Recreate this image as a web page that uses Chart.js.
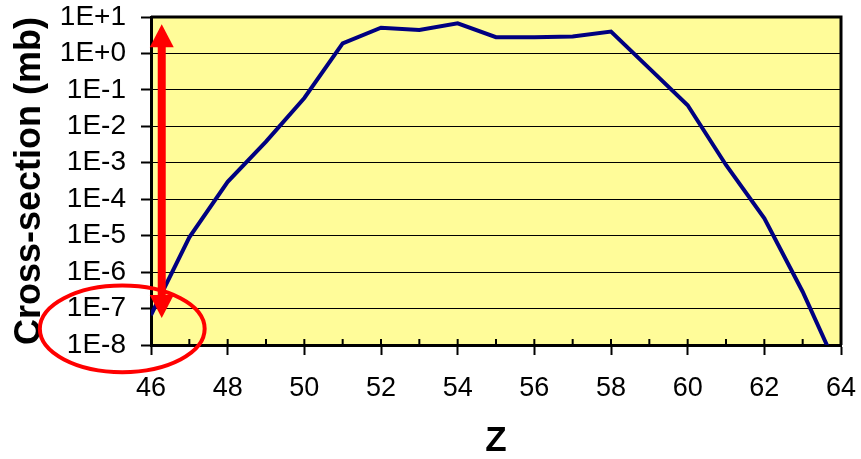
<!DOCTYPE html>
<html>
<head>
<meta charset="utf-8">
<script src="https://cdn.jsdelivr.net/npm/chart.js@4"></script>
<style>
  html, body { margin: 0; padding: 0; background: #fff; }
  #wrap { width: 861px; height: 459px; }
</style>
</head>
<body>
<div id="wrap"><canvas id="chart" width="861" height="459"></canvas></div>
<script>
'use strict';

const zValues = [46, 47, 48, 49, 50, 51, 52, 53, 54, 55, 56, 57, 58, 59, 60, 61, 62, 63, 64];
const crossSections = [
    6.6e-8, 9e-6, 3e-4, 3.8e-3, 0.06, 1.9, 5.1, 4.4, 6.7, 2.8,
    2.8, 2.9, 4.0, 0.39, 0.038, 8.7e-4, 3e-5, 2.9e-7, 1.4e-9
];

const yTickValues = [1e-8, 1e-7, 1e-6, 1e-5, 1e-4, 1e-3, 1e-2, 1e-1, 1e0, 1e1];
const yTickLabels = ['1E-8', '1E-7', '1E-6', '1E-5', '1E-4', '1E-3', '1E-2', '1E-1', '1E+0', '1E+1'];

// double-headed arrow across the whole range, and a ring round the lowest decades
const arrowZ = 46.28;
const arrowRange = [5.5e-8, 6.3];
const ringZ = [43.1, 47.4];
const ringRange = [1.8e-9, 4.3e-7];

const font = 'Liberation Sans, Arial, sans-serif';
const red = '#ff0000';

const decorations = {
    id: 'decorations',
    beforeDraw(chart) {
        const { ctx, chartArea: a } = chart;
        ctx.save();
        ctx.fillStyle = '#fffc99';
        ctx.fillRect(a.left, a.top, a.right - a.left, a.bottom - a.top);
        ctx.restore();
    },
    afterDraw(chart) {
        const { ctx, chartArea: a } = chart;
        const xs = chart.scales.x;
        const ys = chart.scales.y;
        ctx.save();

        // top and right edges of the plot frame
        ctx.strokeStyle = '#000';
        ctx.lineWidth = 3;
        ctx.beginPath();
        ctx.moveTo(a.left, a.top);
        ctx.lineTo(a.right, a.top);
        ctx.lineTo(a.right, a.bottom);
        ctx.stroke();

        // x ticks also poke into the plot
        ctx.lineWidth = 2;
        xs.ticks.forEach(t => {
            const px = xs.getPixelForValue(t.value);
            ctx.beginPath();
            ctx.moveTo(px, a.bottom);
            ctx.lineTo(px, a.bottom - 6);
            ctx.stroke();
        });

        // arrow
        const ax = xs.getPixelForValue(arrowZ);
        const yLo = ys.getPixelForValue(arrowRange[0]);
        const yHi = ys.getPixelForValue(arrowRange[1]);
        const headLen = 23, headHalf = 12, shaftHalf = 4;
        ctx.fillStyle = red;
        ctx.fillRect(ax - shaftHalf, yHi + headLen - 1, shaftHalf * 2, yLo - yHi - headLen * 2 + 2);
        ctx.beginPath();
        ctx.moveTo(ax, yHi);
        ctx.lineTo(ax + headHalf, yHi + headLen);
        ctx.lineTo(ax - headHalf, yHi + headLen);
        ctx.closePath();
        ctx.fill();
        ctx.beginPath();
        ctx.moveTo(ax, yLo);
        ctx.lineTo(ax + headHalf, yLo - headLen);
        ctx.lineTo(ax - headHalf, yLo - headLen);
        ctx.closePath();
        ctx.fill();

        // ring
        const rx0 = xs.getPixelForValue(ringZ[0]);
        const rx1 = xs.getPixelForValue(ringZ[1]);
        const ry0 = ys.getPixelForValue(ringRange[1]);
        const ry1 = ys.getPixelForValue(ringRange[0]);
        ctx.strokeStyle = red;
        ctx.lineWidth = 4;
        ctx.beginPath();
        ctx.ellipse((rx0 + rx1) / 2, (ry0 + ry1) / 2, (rx1 - rx0) / 2, (ry1 - ry0) / 2, 0, 0, Math.PI * 2);
        ctx.stroke();

        ctx.restore();
    }
};

new Chart(document.getElementById('chart'), {
    type: 'line',
    data: {
        datasets: [{
            data: zValues.map((z, i) => ({ x: z, y: crossSections[i] })),
            borderColor: '#000080',
            borderWidth: 4,
            pointRadius: 0,
            tension: 0
        }]
    },
    options: {
        responsive: false,
        animation: false,
        layout: { padding: { top: 17, right: 20, bottom: 0, left: 0 } },
        plugins: { legend: { display: false }, tooltip: { enabled: false } },
        scales: {
            x: {
                type: 'linear',
                min: 46,
                max: 64,
                afterFit: s => {
                    s.height = 114;
                    s.paddingLeft = 0;
                    s.paddingRight = 0;
                },
                ticks: {
                    stepSize: 1,
                    autoSkip: false,
                    maxRotation: 0,
                    padding: 17,
                    color: '#000',
                    font: { family: font, size: 27 },
                    callback: v => (v % 2 === 0 ? String(v) : '')
                },
                grid: {
                    drawOnChartArea: false,
                    tickLength: 10,
                    tickWidth: 2,
                    tickColor: c => (c.tick && c.tick.value % 2 === 0 ? '#000' : 'rgba(0,0,0,0)')
                },
                border: { color: '#000', width: 3 },
                title: {
                    display: true,
                    text: 'Z',
                    color: '#000',
                    font: { family: font, size: 35, weight: 'bold', lineHeight: 1 },
                    padding: { top: 0, bottom: 0 }
                }
            },
            y: {
                type: 'logarithmic',
                min: 1e-8,
                max: 10,
                afterFit: s => {
                    s.width = 151;
                    s.paddingTop = 0;
                    s.paddingBottom = 0;
                },
                afterBuildTicks: s => { s.ticks = yTickValues.map(v => ({ value: v })); },
                ticks: {
                    autoSkip: false,
                    padding: 15,
                    color: '#000',
                    font: { family: font, size: 28 },
                    callback: (v, i) => yTickLabels[i]
                },
                grid: { color: '#000', lineWidth: 1, tickLength: 10, tickWidth: 2, tickColor: '#000' },
                border: { color: '#000', width: 3 },
                title: {
                    display: true,
                    text: 'Cross-section (mb)',
                    color: '#000',
                    font: { family: font, size: 36, weight: 'bold', lineHeight: 1 },
                    padding: { top: 12, bottom: 0 }
                }
            }
        }
    },
    plugins: [decorations]
});
</script>
</body>
</html>
